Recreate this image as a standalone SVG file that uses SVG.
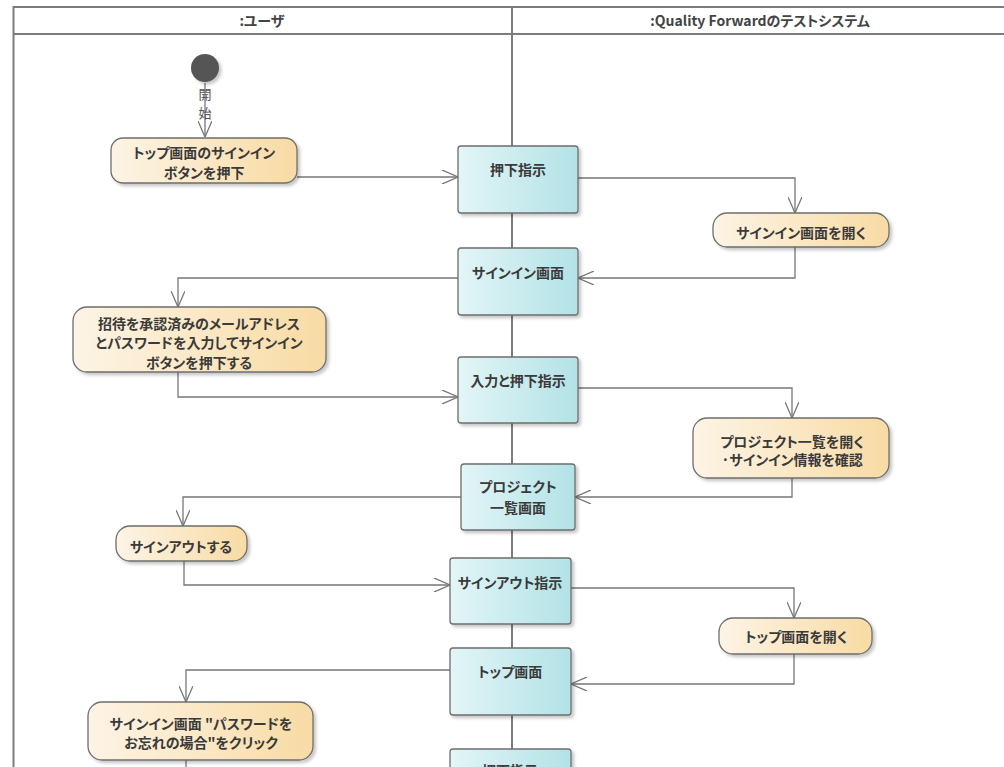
<svg xmlns="http://www.w3.org/2000/svg" width="1004" height="767" viewBox="0 0 1004 767">
  <defs>
    <linearGradient id="gAction" x1="0" y1="0" x2="1" y2="0">
      <stop offset="0" stop-color="#fdf4e6"/>
      <stop offset="1" stop-color="#f8dba4"/>
    </linearGradient>
    <linearGradient id="gObject" x1="0" y1="0" x2="1" y2="0">
      <stop offset="0" stop-color="#e3f5f7"/>
      <stop offset="1" stop-color="#b3e2e6"/>
    </linearGradient>
    <filter id="shadow" x="-10%" y="-10%" width="130%" height="140%">
      <feDropShadow dx="2.5" dy="2.5" stdDeviation="1.5" flood-color="#000" flood-opacity="0.22"/>
    </filter>
    <marker id="open" viewBox="0 0 16 14" refX="16" refY="7" markerWidth="16" markerHeight="14" markerUnits="userSpaceOnUse" orient="auto">
      <path d="M0,0 L16,7 L0,14" fill="none" stroke="#777" stroke-width="1.3"/>
    </marker>
  </defs>
  <style>
    .lane { fill: none; stroke: #7c7c7c; stroke-width: 2; }
    .head { font-family: "Noto Sans CJK JP", "Liberation Sans", sans-serif; font-weight: bold; font-size: 14px; fill: #444; text-anchor: middle; font-feature-settings: "palt"; }
    .action { fill: url(#gAction); stroke: #6e6e6e; stroke-width: 1.3; filter: url(#shadow); }
    .object { fill: url(#gObject); stroke: #6e6e6e; stroke-width: 1.3; filter: url(#shadow); }
    .t { font-family: "Noto Sans CJK JP", "Liberation Sans", sans-serif; font-weight: bold; font-size: 14px; fill: #3a3a3a; text-anchor: middle; font-feature-settings: "palt"; }
    .lbl { font-family: "Noto Sans CJK JP", "Liberation Sans", sans-serif; font-size: 13px; fill: #555; text-anchor: middle; }
    .edge { fill: none; stroke: #777; stroke-width: 1.3; marker-end: url(#open); }
    .edge-plain { fill: none; stroke: #777; stroke-width: 1.3; }
  </style>

  <rect width="1004" height="767" fill="#fff"/>

  <!-- swimlane frame -->
  <g id="lanes">
    <path class="lane" d="M13.5,767 V7 H1004"/>
    <path class="lane" d="M13.5,34 H1004"/>
    <path class="lane" d="M512,7 V767"/>
    <text class="head" x="262" y="26">:ユーザ</text>
    <text class="head" x="760" y="26">:Quality Forwardのテストシステム</text>
  </g>

  <!-- connectors -->
  <g id="connectors">
    <path class="edge" d="M205,83 V137"/>
    <path class="edge" d="M297,177 H458"/>
    <path class="edge" d="M578,178 H795 V213"/>
    <path class="edge" d="M795,247 V278 H578"/>
    <path class="edge" d="M458,278 H178 V307"/>
    <path class="edge" d="M178,372 V397 H458"/>
    <path class="edge" d="M578,388 H792 V418"/>
    <path class="edge" d="M792,478 V497 H575"/>
    <path class="edge" d="M461,497 H183 V526"/>
    <path class="edge" d="M184,561 V585 H450"/>
    <path class="edge" d="M571,588 H794 V618"/>
    <path class="edge" d="M794,654 V684 H571"/>
    <path class="edge" d="M450,670 H186 V702"/>
    <path class="edge-plain" d="M186,760 V767"/>
  </g>

  <!-- initial node -->
  <g id="start">
    <circle cx="205" cy="68" r="14" fill="#555" filter="url(#shadow)"/>
    <text class="lbl" x="205" y="99">開</text>
    <text class="lbl" x="205" y="118">始</text>
  </g>

  <!-- user lane actions -->
  <g id="a-top-signin">
    <rect class="action" x="111" y="138" width="186" height="45" rx="12"/>
    <text class="t" x="204" y="158">トップ画面のサインイン</text>
    <text class="t" x="204" y="178">ボタンを押下</text>
  </g>
  <g id="a-enter-credentials">
    <rect class="action" x="73" y="307" width="253" height="65" rx="14"/>
    <text class="t" x="199" y="329">招待を承認済みのメールアドレス</text>
    <text class="t" x="199" y="348">とパスワードを入力してサインイン</text>
    <text class="t" x="199" y="368">ボタンを押下する</text>
  </g>
  <g id="a-signout">
    <rect class="action" x="116" y="526" width="131" height="35" rx="14"/>
    <text class="t" x="181" y="552">サインアウトする</text>
  </g>
  <g id="a-forgot-password">
    <rect class="action" x="88" y="702" width="225" height="58" rx="14"/>
    <text class="t" x="201" y="729">サインイン画面 "パスワードを</text>
    <text class="t" x="201" y="748">お忘れの場合"をクリック</text>
  </g>

  <!-- system lane actions -->
  <g id="s-open-signin">
    <rect class="action" x="713" y="213" width="176" height="34" rx="14"/>
    <text class="t" x="801" y="238">サインイン画面を開く</text>
  </g>
  <g id="s-open-projects">
    <rect class="action" x="693" y="418" width="196" height="60" rx="14"/>
    <text class="t" x="792" y="447">プロジェクト一覧を開く</text>
    <text class="t" x="792" y="465">·サインイン情報を確認</text>
  </g>
  <g id="s-open-top">
    <rect class="action" x="719" y="618" width="153" height="36" rx="14"/>
    <text class="t" x="796" y="642">トップ画面を開く</text>
  </g>

  <!-- object nodes on the lane boundary -->
  <g id="o-press-1">
    <rect class="object" x="458" y="146" width="120" height="67" rx="3"/>
    <text class="t" x="518" y="175">押下指示</text>
  </g>
  <g id="o-signin-screen">
    <rect class="object" x="458" y="248" width="120" height="67" rx="3"/>
    <text class="t" x="518" y="278">サインイン画面</text>
  </g>
  <g id="o-input-press">
    <rect class="object" x="458" y="357" width="120" height="66" rx="3"/>
    <text class="t" x="518" y="386">入力と押下指示</text>
  </g>
  <g id="o-project-list">
    <rect class="object" x="461" y="464" width="114" height="66" rx="3"/>
    <text class="t" x="518" y="492">プロジェクト</text>
    <text class="t" x="518" y="513">一覧画面</text>
  </g>
  <g id="o-signout">
    <rect class="object" x="450" y="558" width="121" height="66" rx="3"/>
    <text class="t" x="510" y="588">サインアウト指示</text>
  </g>
  <g id="o-top-screen">
    <rect class="object" x="450" y="648" width="121" height="67" rx="3"/>
    <text class="t" x="510" y="677">トップ画面</text>
  </g>
  <g id="o-press-2">
    <rect class="object" x="450" y="749" width="121" height="60" rx="3"/>
    <text class="t" x="510" y="776">押下指示</text>
  </g>
</svg>
